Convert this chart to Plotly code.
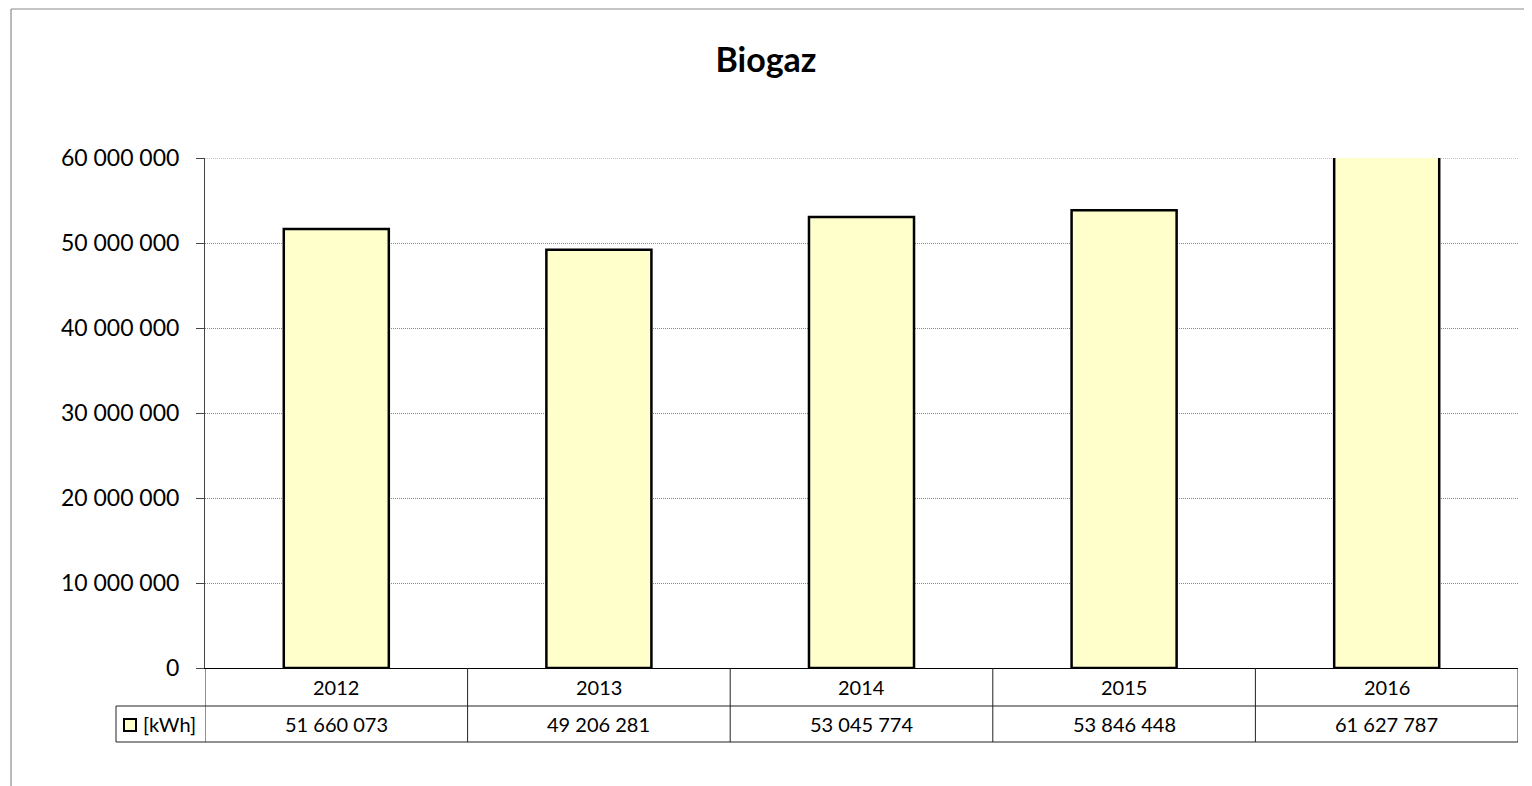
import plotly.graph_objects as go

years = ["2012", "2013", "2014", "2015", "2016"]
values = [51660073, 49206281, 53045774, 53846448, 61627787]
series_name = "[kWh]"
y_ticks = [0, 10000000, 20000000, 30000000, 40000000, 50000000, 60000000]

OFF = 8  # page body margin
W, H = 1532 - OFF, 786 - OFF
L, R, T, B = 205 - OFF, 1518 - OFF, 158 - OFF, 668 - OFF
PW, PH = R - L, B - T

def py(px):
    return (B - (px - OFF)) / PH

def px_x(px):
    return ((px - OFF) - L) / PW

def fmt(v):
    return f"{v:,}".replace(",", " ")

FONT = "Lato, 'Open Sans', sans-serif"
fill = "#FFFFCC"

fig = go.Figure()
fig.add_trace(go.Bar(
    x=list(range(len(years))), y=values, width=0.4,
    marker=dict(color=fill, line=dict(color="black", width=2.5)),
    showlegend=False,
))

shapes = []
annotations = []
line_c = "#222222"
n = len(years)
# top gridline
shapes.append(dict(type="line", xref="paper", yref="y", x0=0, x1=1, y0=y_ticks[-1], y1=y_ticks[-1],
                   line=dict(color="#8a8a8a", width=1, dash="1px,1px"), layer="below"))
for yy in (706, 742):
    shapes.append(dict(type="line", xref="paper", yref="paper", x0=0, x1=1,
                       y0=py(yy), y1=py(yy), line=dict(color=line_c, width=1)))
for i in range(n + 1):
    shapes.append(dict(type="line", xref="x", yref="paper", x0=i - 0.5, x1=i - 0.5,
                       y0=py(668), y1=py(742), line=dict(color=line_c, width=1)))
shapes.append(dict(type="line", xref="paper", yref="paper", x0=px_x(116), x1=px_x(205),
                   y0=py(706), y1=py(706), line=dict(color=line_c, width=1)))
shapes.append(dict(type="line", xref="paper", yref="paper", x0=px_x(116), x1=px_x(205),
                   y0=py(742), y1=py(742), line=dict(color=line_c, width=1)))
shapes.append(dict(type="line", xref="paper", yref="paper", x0=px_x(116), x1=px_x(116),
                   y0=py(706), y1=py(742), line=dict(color=line_c, width=1)))
shapes.append(dict(type="rect", xref="paper", yref="paper", x0=px_x(124), x1=px_x(136),
                   y0=py(731), y1=py(719), fillcolor=fill, line=dict(color="black", width=2)))
# outer chart border
shapes.append(dict(type="line", xref="paper", yref="paper", x0=px_x(11), x1=px_x(11),
                   y0=py(800), y1=py(9), line=dict(color="#8c8c8c", width=1.2), layer="below"))
shapes.append(dict(type="line", xref="paper", yref="paper", x0=px_x(11), x1=px_x(1545),
                   y0=py(9), y1=py(9), line=dict(color="#8c8c8c", width=1.2), layer="below"))

for i, (yr, v) in enumerate(zip(years, values)):
    annotations.append(dict(x=i, y=py(687), xref="x", yref="paper", text=yr, showarrow=False,
                            yanchor="middle", font=dict(family=FONT, size=20, color="black")))
    annotations.append(dict(x=i, y=py(724), xref="x", yref="paper", text=fmt(v), showarrow=False,
                            yanchor="middle", font=dict(family=FONT, size=20, color="black")))
annotations.append(dict(x=px_x(141), y=py(724), xref="paper", yref="paper", text=series_name,
                        showarrow=False, xanchor="left", yanchor="middle",
                        font=dict(family=FONT, size=20, color="black")))

fig.update_layout(
    width=W, height=H,
    margin=dict(l=L, r=W - R, t=T, b=H - B, autoexpand=False),
    paper_bgcolor="white", plot_bgcolor="white",
    title=dict(text="<b>Biogaz</b>", x=px_x(766), xanchor="center", xref="paper",
               y=1 - (60 - OFF) / H, yanchor="middle",
               font=dict(family=FONT, size=34, color="black")),
    xaxis=dict(type="linear", showticklabels=False, ticks="", showgrid=False, zeroline=False,
               showline=True, linecolor="black", linewidth=1, range=[-0.5, n - 0.5]),
    yaxis=dict(range=[0, 60000000], tickvals=y_ticks, ticktext=[fmt(t) for t in y_ticks],
               showgrid=True, gridcolor="#8a8a8a", griddash="1px,1px", gridwidth=1,
               showline=True, linecolor="#444444", linewidth=1, ticks="outside",
               ticklen=8, tickcolor="#444444", zeroline=False, ticklabelstandoff=12,
               tickfont=dict(family=FONT, size=23, color="black")),
    shapes=shapes, annotations=annotations,
)

fig.write_html("out.html")
